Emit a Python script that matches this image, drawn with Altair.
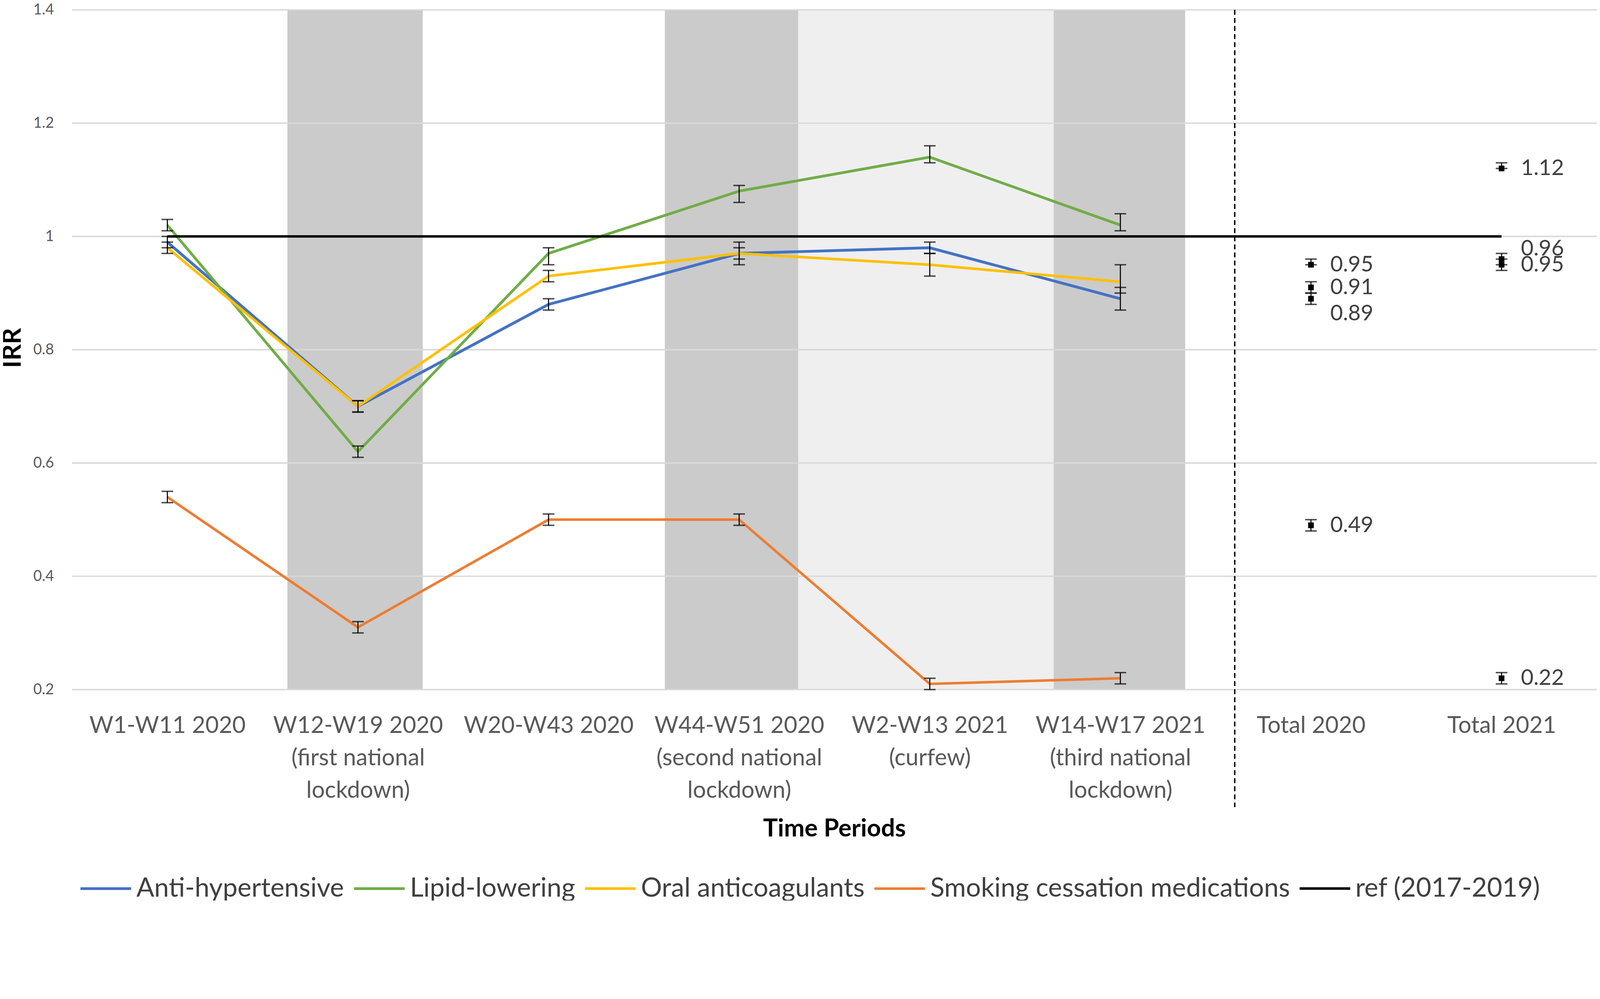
import json
import altair as alt
import pandas as pd

# ---------------- data ----------------
periods = [
    "W1-W11 2020",
    "W12-W19 2020\n(first national\nlockdown)",
    "W20-W43 2020",
    "W44-W51 2020\n(second national\nlockdown)",
    "W2-W13 2021\n(curfew)",
    "W14-W17 2021\n(third national\nlockdown)",
    "Total 2020",
    "Total 2021",
]
series_names = ["Anti-hypertensive", "Lipid-lowering", "Oral anticoagulants",
                "Smoking cessation medications", "ref (2017-2019)"]
series_colors = ["#4472C4", "#70AD47", "#FFC000", "#ED7D31", "#000000"]
series_widths = [8, 7, 10, 7, 11]

anti_hyp    = [0.99, 0.70, 0.88, 0.97, 0.98, 0.89]
anti_hyp_lo = [0.98, 0.69, 0.87, 0.96, 0.97, 0.87]
anti_hyp_hi = [1.00, 0.71, 0.89, 0.98, 0.99, 0.91]

lipid    = [1.02, 0.62, 0.97, 1.08, 1.14, 1.02]
lipid_lo = [1.01, 0.61, 0.95, 1.06, 1.13, 1.01]
lipid_hi = [1.03, 0.63, 0.98, 1.09, 1.16, 1.04]

oral    = [0.98, 0.70, 0.93, 0.97, 0.95, 0.92]
oral_lo = [0.97, 0.69, 0.92, 0.95, 0.93, 0.90]
oral_hi = [0.99, 0.71, 0.94, 0.99, 0.97, 0.95]

smoking    = [0.54, 0.31, 0.50, 0.50, 0.21, 0.22]
smoking_lo = [0.53, 0.30, 0.49, 0.49, 0.20, 0.21]
smoking_hi = [0.55, 0.32, 0.51, 0.51, 0.22, 0.23]

ref_values = [1, 1, 1, 1, 1, 1, 1, 1]

# totals, in series order: anti-hypertensive, lipid-lowering, oral anticoagulants, smoking cessation
total_2020    = [0.89, 0.95, 0.91, 0.49]
total_2020_lo = [0.88, 0.95, 0.90, 0.48]
total_2020_hi = [0.90, 0.96, 0.92, 0.50]
total_2021    = [0.96, 1.12, 0.95, 0.22]
total_2021_lo = [0.95, 1.12, 0.94, 0.21]
total_2021_hi = [0.97, 1.13, 0.96, 0.23]

# shaded periods (in category units)
dark_spans = [(0.63, 1.34), (2.61, 3.31), (4.65, 5.34)]
light_spans = [(3.31, 4.65)]
divider_x = [5.6]
y_ticks = [0.2, 0.4, 0.6, 0.8, 1.0, 1.2, 1.4]

# label nudges (pixels) for overlapping total labels
label_nudge = {(6, 0): 43, (7, 0): -29}

# ---------------- frames ----------------
main = [anti_hyp, lipid, oral, smoking]
main_lo = [anti_hyp_lo, lipid_lo, oral_lo, smoking_lo]
main_hi = [anti_hyp_hi, lipid_hi, oral_hi, smoking_hi]

line_rows = []
err_rows = []
for s, (vals, los, his) in enumerate(zip(main, main_lo, main_hi)):
    for i, v in enumerate(vals):
        line_rows.append({"x": i, "y": v, "series": series_names[s]})
        err_rows.append({"x": i, "lo": los[i], "hi": his[i]})
for i, v in enumerate(ref_values):
    line_rows.append({"x": i, "y": v, "series": series_names[4]})
lines_df = pd.DataFrame(line_rows)

tot_rows = []
for xi, vals, los, his in [(6, total_2020, total_2020_lo, total_2020_hi),
                           (7, total_2021, total_2021_lo, total_2021_hi)]:
    for s, v in enumerate(vals):
        tot_rows.append({"x": xi, "y": v, "s": s, "dy": label_nudge.get((xi, s), 0)})
        err_rows.append({"x": xi, "lo": los[s], "hi": his[s]})
tot_df = pd.DataFrame(tot_rows)
err_df = pd.DataFrame(err_rows)

dark_df = pd.DataFrame([{"x": a, "x2": b, "y": 0.2, "y2": 1.4} for a, b in dark_spans])
light_df = pd.DataFrame([{"x": a, "x2": b, "y": 0.2, "y2": 1.4} for a, b in light_spans])
grid_df = pd.DataFrame([{"x": -0.5, "x2": 7.5, "y": t} for t in y_ticks])
div_df = pd.DataFrame([{"x": d, "y": 1.4, "y2": -0.0075} for d in divider_x])

# ---------------- encodings ----------------
FONT = "Lato"
label_expr = "split(" + json.dumps(periods) + "[datum.value], '\\n')"

xscale = alt.Scale(domain=[-0.5, 7.5], nice=False, zero=False)
yscale = alt.Scale(domain=[0.2, 1.4], nice=False, zero=False)

ax_x = alt.Axis(values=list(range(8)), labelExpr=label_expr, grid=False, ticks=False,
                domain=False, labelFont=FONT, labelFontSize=66, labelColor="#595959",
                labelPadding=71, labelLineHeight=92, labelOverlap=False, labelFlush=False,
                labelBaseline="top", labelLimit=2000,
                title="Time Periods", titleFont=FONT, titleFontSize=70, titleFontWeight="bold",
                titleColor="#000000", titleX=2168, titleY=417, titleBaseline="alphabetic",
                titleAlign="center")
ax_y = alt.Axis(values=y_ticks, format=".1~f", grid=False, ticks=False, domain=False,
                labelFont=FONT, labelFontSize=42, labelColor="#595959", labelPadding=52,
                labelFlush=False, labelOverlap=False,
                title="IRR", titleFont=FONT, titleFontSize=72, titleFontWeight="bold",
                titleColor="#000000", titleAngle=270, titleX=-146, titleY=961,
                titleAlign="center", titleBaseline="alphabetic")


def X(f):
    return alt.X(f"{f}:Q", scale=xscale, axis=ax_x)


def Y(f):
    return alt.Y(f"{f}:Q", scale=yscale, axis=ax_y)


dark = alt.Chart(dark_df).mark_rect(color="#CBCBCB").encode(
    x=X("x"), x2="x2", y=Y("y"), y2="y2")
light = alt.Chart(light_df).mark_rect(color="#EFEFEF").encode(
    x=X("x"), x2="x2", y=Y("y"), y2="y2")
grid = alt.Chart(grid_df).mark_rule(color="#D9D9D9", strokeWidth=4).encode(
    x=X("x"), x2="x2", y=Y("y"))
divider = alt.Chart(div_df).mark_rule(color="#000000", strokeWidth=4,
                                      strokeDash=[14, 9]).encode(
    x=X("x"), y=Y("y"), y2="y2")

lines = alt.Chart(lines_df).mark_line().encode(
    x=X("x"), y=Y("y"),
    color=alt.Color("series:N", scale=alt.Scale(domain=series_names, range=series_colors),
                    legend=alt.Legend(orient="none", legendX=20, legendY=2423,
                                      direction="horizontal", title=None,
                                      symbolType="stroke", symbolSize=20736,
                                      symbolStrokeWidth=7, labelFont=FONT,
                                      labelFontSize=75, labelColor="#404040",
                                      labelOffset=11, columnPadding=12, padding=0,
                                      labelLimit=3000)),
    strokeWidth=alt.StrokeWidth("series:N",
                                scale=alt.Scale(domain=series_names, range=series_widths),
                                legend=None),
    order=alt.Order("x:Q"),
)

err_rule = alt.Chart(err_df).mark_rule(color="#000000", strokeWidth=3).encode(
    x=X("x"), y=Y("lo"), y2="hi")
cap_lo = alt.Chart(err_df).mark_tick(color="#000000", orient="horizontal", size=33,
                                     thickness=4).encode(x=X("x"), y=Y("lo"))
cap_hi = alt.Chart(err_df).mark_tick(color="#000000", orient="horizontal", size=33,
                                     thickness=4).encode(x=X("x"), y=Y("hi"))

tot_pts = alt.Chart(tot_df).mark_point(shape="square", filled=True, color="#000000",
                                       size=260, opacity=1).encode(x=X("x"), y=Y("y"))

label_layers = []
for dy in sorted(set(tot_df["dy"])):
    label_layers.append(
        alt.Chart(tot_df[tot_df["dy"] == dy]).mark_text(
            align="left", baseline="middle", dx=55, dy=int(dy), font=FONT, fontSize=62,
            color="#404040").encode(x=X("x"), y=Y("y"), text=alt.Text("y:Q", format=".2f"))
    )

chart = alt.layer(light, dark, grid, divider, lines, err_rule, cap_lo, cap_hi, tot_pts,
                  *label_layers).properties(
    width=4337, height=1933,
    autosize=alt.AutoSizeParams(type="none"),
    padding={"left": 196, "top": -108.4, "right": 0, "bottom": 472.6},
    background="#FFFFFF",
).configure_view(stroke=None)

chart.save("out.html", embed_options={"renderer": "svg", "actions": False})
